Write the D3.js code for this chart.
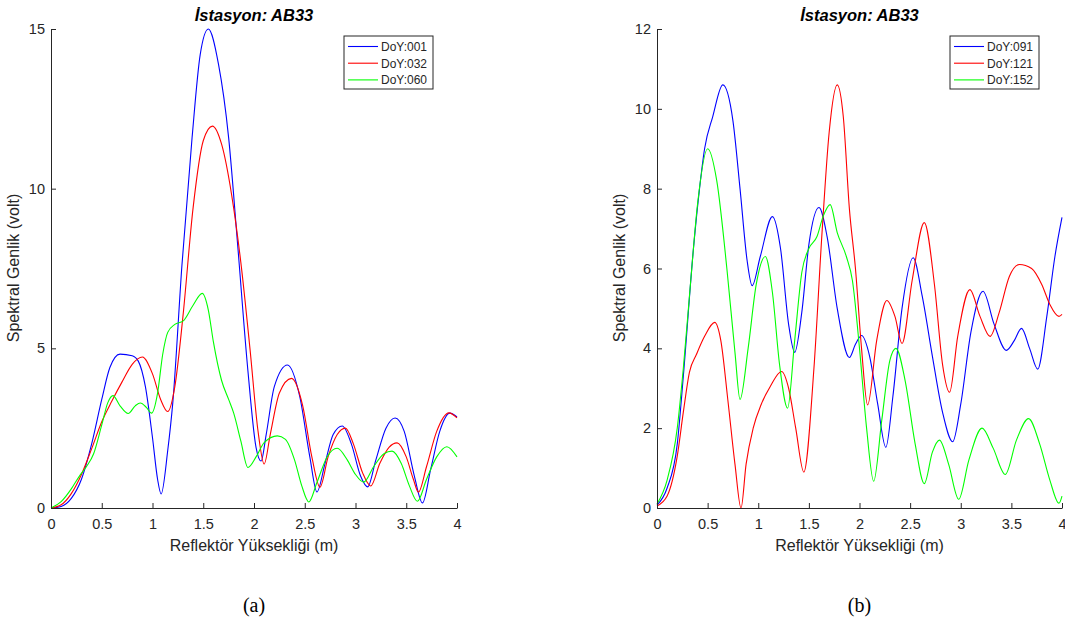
<!DOCTYPE html>
<html>
<head>
<meta charset="utf-8">
<script src="https://cdn.jsdelivr.net/npm/d3@7"></script>
<style>
  body { margin: 0; background: #fff; }
  svg text { font-family: "Liberation Sans", Arial, sans-serif; fill: #262626; }
  .caption { font-family: "Liberation Serif", "Times New Roman", serif; }
</style>
</head>
<body>
<svg id="chart" width="1065" height="623"></svg>
<script>
// panel (a)
var legendA = ["DoY:001", "DoY:032", "DoY:060"];
var doy001 = [[0,0],[0.1,0.05],[0.2,0.3],[0.3,0.9],[0.4,2.0],[0.5,3.4],[0.58,4.4],[0.68,4.82],[0.8,4.77],[0.86,4.6],[0.93,3.8],[1.0,2.2],[1.05,0.9],[1.085,0.44],[1.15,1.8],[1.2,3.3],[1.29,7.6],[1.39,11.6],[1.47,14.2],[1.55,15.0],[1.65,13.9],[1.75,11.6],[1.84,8.2],[1.94,4.3],[2.02,1.9],[2.07,1.47],[2.12,2.3],[2.2,3.8],[2.33,4.48],[2.45,3.5],[2.55,1.6],[2.62,0.5],[2.7,1.4],[2.78,2.3],[2.87,2.57],[2.96,2.0],[3.05,1.0],[3.12,0.66],[3.2,1.5],[3.3,2.5],[3.39,2.82],[3.48,2.4],[3.58,1.0],[3.66,0.16],[3.74,1.2],[3.83,2.4],[3.93,2.97],[4.0,2.85]];
var doy032 = [[0,0],[0.1,0.1],[0.2,0.45],[0.3,1.05],[0.4,1.85],[0.5,2.7],[0.6,3.35],[0.7,3.95],[0.8,4.5],[0.9,4.73],[1.0,4.2],[1.08,3.4],[1.15,3.02],[1.22,3.8],[1.3,6.0],[1.4,9.4],[1.5,11.5],[1.59,11.96],[1.68,11.4],[1.78,9.8],[1.87,7.7],[1.96,5.0],[2.04,2.4],[2.1,1.38],[2.16,2.3],[2.25,3.6],[2.37,4.06],[2.48,3.2],[2.57,1.6],[2.65,0.65],[2.73,1.6],[2.82,2.3],[2.9,2.5],[2.98,2.0],[3.07,1.1],[3.15,0.69],[3.24,1.4],[3.33,1.9],[3.41,2.04],[3.5,1.6],[3.57,0.9],[3.62,0.5],[3.7,1.3],[3.8,2.4],[3.92,2.98],[4.0,2.82]];
var doy060 = [[0,0],[0.1,0.2],[0.2,0.6],[0.28,1.0],[0.35,1.3],[0.42,1.7],[0.5,2.6],[0.56,3.3],[0.61,3.52],[0.68,3.2],[0.76,2.96],[0.83,3.2],[0.88,3.29],[0.94,3.15],[0.99,2.97],[1.05,3.6],[1.1,4.8],[1.15,5.5],[1.22,5.75],[1.3,5.85],[1.4,6.35],[1.49,6.72],[1.55,6.2],[1.6,5.2],[1.68,4.0],[1.75,3.4],[1.8,2.97],[1.87,2.1],[1.94,1.27],[2.02,1.6],[2.1,2.05],[2.23,2.26],[2.31,2.15],[2.4,1.5],[2.47,0.7],[2.54,0.19],[2.62,0.8],[2.72,1.6],[2.82,1.87],[2.92,1.5],[3.0,1.05],[3.08,0.81],[3.18,1.3],[3.28,1.7],[3.36,1.78],[3.45,1.4],[3.53,0.7],[3.61,0.21],[3.7,0.9],[3.8,1.6],[3.9,1.92],[4.0,1.6]];
var yTicksA = [0, 5, 10, 15];

// panel (b)
var legendB = ["DoY:091", "DoY:121", "DoY:152"];
var doy091 = [[0,0.07],[0.1,0.5],[0.2,1.6],[0.26,3.3],[0.36,6.5],[0.42,8.0],[0.47,9.0],[0.55,9.8],[0.65,10.6],[0.75,9.7],[0.82,8.0],[0.89,6.2],[0.94,5.57],[1.02,6.3],[1.14,7.3],[1.22,6.5],[1.3,4.6],[1.36,3.9],[1.43,4.9],[1.5,6.6],[1.6,7.53],[1.68,6.8],[1.78,5.0],[1.9,3.77],[1.96,4.1],[2.02,4.32],[2.1,3.8],[2.18,2.6],[2.26,1.52],[2.33,2.8],[2.42,5.0],[2.53,6.27],[2.62,5.3],[2.72,3.8],[2.82,2.4],[2.92,1.66],[3.0,2.6],[3.1,4.4],[3.22,5.43],[3.33,4.6],[3.45,3.95],[3.53,4.2],[3.6,4.5],[3.68,4.0],[3.76,3.48],[3.85,4.8],[3.93,6.3],[4.0,7.28]];
var doy121 = [[0,0.05],[0.1,0.3],[0.2,1.3],[0.26,2.4],[0.32,3.4],[0.39,3.85],[0.47,4.3],[0.57,4.65],[0.63,4.2],[0.7,2.7],[0.77,1.1],[0.83,0],[0.88,1.1],[0.95,2.0],[1.03,2.6],[1.12,3.05],[1.23,3.42],[1.3,3.0],[1.37,2.0],[1.45,0.9],[1.55,3.5],[1.63,6.9],[1.7,9.4],[1.78,10.6],[1.84,9.8],[1.9,7.5],[1.96,6.0],[2.02,4.0],[2.08,2.58],[2.17,4.2],[2.27,5.2],[2.35,4.8],[2.42,4.12],[2.52,5.7],[2.64,7.15],[2.74,5.6],[2.82,3.6],[2.89,2.9],[2.97,4.3],[3.09,5.47],[3.19,4.8],[3.29,4.3],[3.38,4.9],[3.48,5.8],[3.58,6.1],[3.7,6.0],[3.8,5.6],[3.88,5.1],[3.97,4.8],[4.0,4.85]];
var doy152 = [[0,0.1],[0.1,0.7],[0.2,2.0],[0.26,3.5],[0.33,5.6],[0.4,7.6],[0.5,9.0],[0.59,8.2],[0.69,6.0],[0.77,3.9],[0.82,2.72],[0.9,4.0],[0.98,5.6],[1.07,6.3],[1.14,5.4],[1.21,3.6],[1.29,2.5],[1.36,4.2],[1.43,5.9],[1.5,6.5],[1.58,6.8],[1.64,7.3],[1.71,7.6],[1.78,6.9],[1.87,6.3],[1.93,5.7],[2.0,4.0],[2.07,2.0],[2.14,0.67],[2.22,2.2],[2.3,3.7],[2.36,4.0],[2.45,3.2],[2.55,1.6],[2.64,0.61],[2.72,1.4],[2.79,1.7],[2.88,1.1],[2.98,0.22],[3.08,1.2],[3.21,2.0],[3.32,1.5],[3.44,0.84],[3.55,1.7],[3.67,2.24],[3.78,1.6],[3.88,0.7],[3.97,0.12],[4.0,0.3]];
var yTicksB = [0, 2, 4, 6, 8, 10, 12];

var xTicks = [0, 0.5, 1, 1.5, 2, 2.5, 3, 3.5, 4];
var colors = ["#0000ff", "#ff0000", "#00ff00"];

var svg = d3.select('#chart');

function drawPanel(opt) {
    var x = d3.scaleLinear().domain([0, 4]).range([opt.left, opt.right]);
    var y = d3.scaleLinear().domain([0, opt.ymax]).range([508, 29]);
    var g = svg.append('g');

    var line = d3.line()
        .x(d => x(d[0]))
        .y(d => y(d[1]))
        .curve(d3.curveMonotoneX);

    g.selectAll('path.series')
        .data(opt.series)
        .enter()
        .append('path')
        .attr('class', 'series')
        .attr('d', d => line(d))
        .attr('fill', 'none')
        .attr('stroke', (d, i) => colors[i])
        .attr('stroke-width', 1.1);

    var xAxis = g.append('g')
        .attr('transform', 'translate(0,508)')
        .call(d3.axisBottom(x).tickValues(xTicks).tickSizeInner(-5).tickSizeOuter(0).tickPadding(11)
            .tickFormat(d3.format('')));
    var yAxis = g.append('g')
        .attr('transform', 'translate(' + opt.left + ',0)')
        .call(d3.axisLeft(y).tickValues(opt.yTicks).tickSizeInner(-5).tickSizeOuter(0).tickPadding(6));

    [xAxis, yAxis].forEach(a => {
        a.select('.domain').attr('stroke', '#262626');
        a.selectAll('.tick line').attr('stroke', '#262626');
        a.selectAll('.tick text').attr('font-size', 14.5).style('font-family', '"Liberation Sans", Arial, sans-serif').attr('fill', '#262626');
    });

    var cx = (opt.left + opt.right) / 2;
    g.append('text')
        .attr('x', cx).attr('y', 21)
        .attr('text-anchor', 'middle')
        .attr('font-size', 16.5)
        .attr('font-weight', 'bold')
        .attr('font-style', 'italic')
        .style('fill', '#000')
        .text('İstasyon: AB33');

    g.append('text')
        .attr('x', cx).attr('y', 551)
        .attr('text-anchor', 'middle')
        .attr('font-size', 16)
        .text('Reflektör Yüksekliği (m)');

    g.append('text')
        .attr('transform', 'translate(' + (opt.left - 32) + ',268) rotate(-90)')
        .attr('text-anchor', 'middle')
        .attr('font-size', 16)
        .text('Spektral Genlik (volt)');

    g.append('text')
        .attr('class', 'caption')
        .attr('x', cx).attr('y', 612)
        .attr('text-anchor', 'middle')
        .attr('font-size', 20)
        .style('fill', '#000')
        .text(opt.caption);

    // legend
    var lg = g.append('g').attr('transform', 'translate(' + opt.legendX + ',36)');
    lg.append('rect')
        .attr('width', 89).attr('height', 53)
        .attr('fill', '#fff')
        .attr('stroke', '#262626')
        .attr('stroke-width', 1);
    var items = lg.selectAll('g.item')
        .data(opt.labels)
        .enter()
        .append('g')
        .attr('class', 'item')
        .attr('transform', (d, i) => 'translate(0,' + (10.5 + i * 16.7) + ')');
    items.append('line')
        .attr('x1', 4).attr('x2', 34)
        .attr('stroke', (d, i) => colors[i])
        .attr('stroke-width', 1.1);
    items.append('text')
        .attr('x', 37).attr('y', 4.5)
        .attr('font-size', 12)
        .text(d => d);
}

drawPanel({left: 51, right: 457, ymax: 15, yTicks: yTicksA, series: [doy001, doy032, doy060],
    labels: legendA, legendX: 344, caption: '(a)'});
drawPanel({left: 657, right: 1062, ymax: 12, yTicks: yTicksB, series: [doy091, doy121, doy152],
    labels: legendB, legendX: 950, caption: '(b)'});
</script>
</body>
</html>
